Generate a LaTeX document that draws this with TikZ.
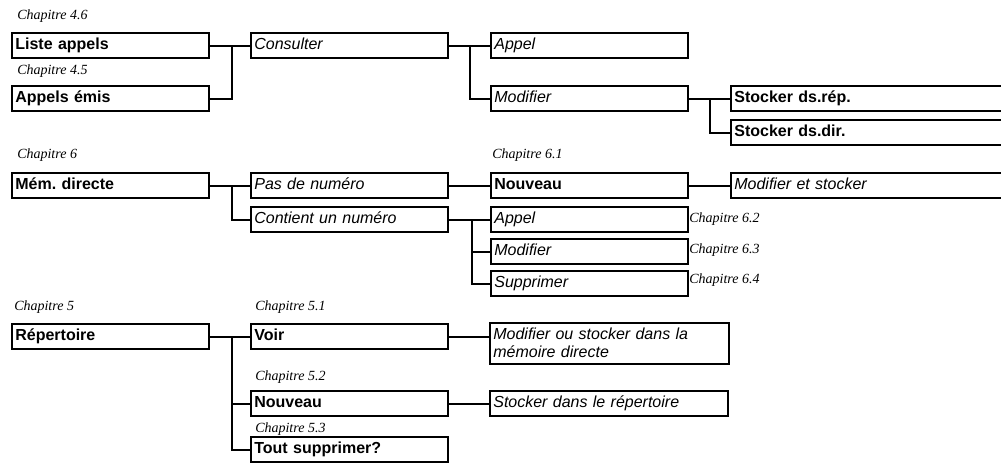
\documentclass[tikz,border=0pt]{standalone}
\usepackage{fontspec}
\setmainfont{Liberation Sans}
\newfontfamily\chapfont{Liberation Serif}
\tikzset{
  menubox/.style={draw, line width=1.5pt, anchor=north west, inner xsep=2.5pt, inner ysep=0pt,
    text height=12.4pt, text depth=6.4pt, text width=#1, align=left, font=\fontsize{12}{13.5}\selectfont},
  menubox/.default=142.75pt,
  chap/.style={anchor=base west, inner sep=0pt, font=\chapfont\itshape\fontsize{10.5}{12}\selectfont},
  link/.style={line width=1.5pt},
}

\begin{document}
\begin{tikzpicture}[x=0.75pt,y=0.75pt,yscale=-1,xscale=1]
\useasboundingbox (0,0) rectangle (1001,469);

%Liste appels / Appels emis
\node[menubox] (liste) at (11,32) {\textbf{Liste appels}};
\node[menubox] (emis) at (11,85) {\textbf{Appels émis}};
\node[menubox] (consult) at (250,32) {\textit{Consulter}};
\node[menubox] (appelA) at (490,32) {\textit{Appel}};
\node[menubox] (modifA) at (490,85) {\textit{Modifier}};
\node[menubox=205pt] (stockrep) at (730,85) {\textbf{Stocker ds.rép.}};
\node[menubox=205pt] (stockdir) at (730,119) {\textbf{Stocker ds.dir.}};

%Mem. directe
\node[menubox] (memdir) at (11,172) {\textbf{Mém.\ directe}};
\node[menubox] (pasnum) at (250,172) {\textit{Pas de numéro}};
\node[menubox] (contnum) at (250,206) {\textit{Contient un numéro}};
\node[menubox] (nouvA) at (490,172) {\textbf{Nouveau}};
\node[menubox=205pt] (modstock) at (730,172) {\textit{Modifier et stocker}};
\node[menubox] (appelB) at (490,206) {\textit{Appel}};
\node[menubox] (modifB) at (490,238) {\textit{Modifier}};
\node[menubox] (supprB) at (490,270) {\textit{Supprimer}};

%Repertoire
\node[menubox] (repert) at (11,323) {\textbf{Répertoire}};
\node[menubox] (voir) at (250,323) {\textbf{Voir}};
\node[menubox=174.25pt, text depth=18.4pt] (modifdir) at (489,322) {\textit{Modifier ou stocker dans la}\\\textit{mémoire directe}};
\node[menubox] (nouvB) at (250,390) {\textbf{Nouveau}};
\node[menubox=173.5pt] (stockrepert) at (489,390) {\textit{Stocker dans le répertoire}};
\node[menubox] (toutsup) at (250,436) {\textbf{Tout supprimer?}};

% Text Node
\node[chap] (ch46) at (17,19) {Chapitre 4.6};
\node[chap] (ch45) at (17,74) {Chapitre 4.5};
\node[chap] (ch6) at (17,158) {Chapitre 6};
\node[chap] (ch61) at (492,158) {Chapitre 6.1};
\node[chap] (ch62) at (689,222) {Chapitre 6.2};
\node[chap] (ch63) at (689,253) {Chapitre 6.3};
\node[chap] (ch64) at (689,283) {Chapitre 6.4};
\node[chap] (ch5) at (14,310) {Chapitre 5};
\node[chap] (ch51) at (255,310) {Chapitre 5.1};
\node[chap] (ch52) at (255,380) {Chapitre 5.2};
\node[chap] (ch53) at (255,432) {Chapitre 5.3};

%Straight Lines
\draw[link] (liste.east) -- (consult.west);
\draw[link] (emis.east) -- ++(22,0) |- (consult.west);
\draw[link] (consult.east) -- (appelA.west);
\draw[link] (consult.east) -- ++(21,0) |- (modifA.west);
\draw[link] (modifA.east) -- (stockrep.west);
\draw[link] (modifA.east) -- ++(21,0) |- (stockdir.west);

\draw[link] (memdir.east) -- (pasnum.west);
\draw[link] (memdir.east) -- ++(22,0) |- (contnum.west);
\draw[link] (pasnum.east) -- (nouvA.west);
\draw[link] (nouvA.east) -- (modstock.west);
\draw[link] (contnum.east) -- (appelB.west);
\draw[link] (contnum.east) -- ++(23,0) |- (modifB.west);
\draw[link] (contnum.east) -- ++(23,0) |- (supprB.west);

\draw[link] (repert.east) -- (voir.west);
\draw[link] (repert.east) -- ++(22,0) |- (nouvB.west);
\draw[link] (repert.east) -- ++(22,0) |- (toutsup.west);
\draw[link] (voir.east) -- (voir.east -| modifdir.west);
\draw[link] (nouvB.east) -- (stockrepert.west);

\end{tikzpicture}
\end{document}
